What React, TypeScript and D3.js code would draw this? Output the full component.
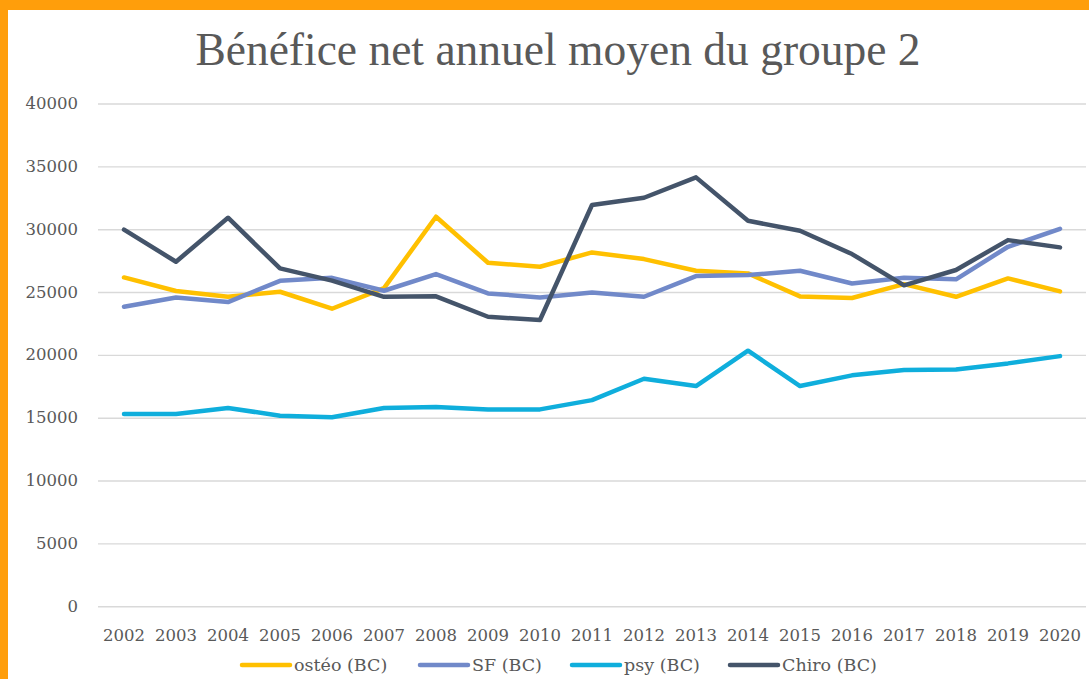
import React from "react";
import * as d3 from "d3";

const years = ["2002","2003","2004","2005","2006","2007","2008","2009","2010","2011","2012","2013","2014","2015","2016","2017","2018","2019","2020"];
const osteo = [26200,25120,24660,25060,23710,25350,31030,27370,27050,28190,27660,26730,26520,24690,24560,25670,24660,26120,25090];
const sf = [23870,24610,24240,25930,26170,25140,26470,24930,24610,25010,24660,26310,26390,26730,25720,26170,26050,28640,30070];
const psy = [15330,15330,15810,15200,15070,15810,15890,15700,15700,16440,18140,17560,20370,17560,18410,18830,18880,19360,19940];
const chiro = [30000,27450,30950,26920,25950,24660,24700,23070,22810,31960,32540,34160,30710,29910,28060,25570,26790,29170,28590];
const yTicks = [0,5000,10000,15000,20000,25000,30000,35000,40000];

const seriesNames = ["ostéo (BC)", "SF (BC)", "psy (BC)", "Chiro (BC)"];
const seriesValues = [osteo, sf, psy, chiro];
const seriesColors = ["#FFC000", "#7189C9", "#0FAEDC", "#44546A"];

const W = 1089, H = 679;
const font = "'DejaVu Serif', serif";

export default function App() {
  const x = d3.scaleBand<string>().domain(years).range([98, 1086]);
  const y = d3.scaleLinear().domain([0, 40000]).range([606.7, 104]);
  const line = d3.line<number>()
    .x((_, i) => (x(years[i]) as number) + x.bandwidth() / 2)
    .y((d) => y(d));

  const legendX = [242, 420, 572, 730];

  return (
    <svg width={W} height={H} style={{ position: "absolute", left: 0, top: 0 }}>
      <rect x={0} y={0} width={W} height={H} fill="#FF9E0B" />
      <rect x={8} y={10} width={W - 8} height={H - 10} fill="#FFFFFF" />
      <text x={558} y={65} textAnchor="middle" fontFamily="'Liberation Serif', serif" fontSize={45.5} fill="#595959">
        Bénéfice net annuel moyen du groupe 2
      </text>
      {yTicks.map((t) => (
        <g key={t}>
          <line x1={98} x2={1086} y1={y(t)} y2={y(t)} stroke="#D9D9D9" strokeWidth={1.4} />
          <text x={78} y={y(t) + 5} textAnchor="end" fontFamily={font} fontSize={16.5} fill="#595959">{t}</text>
        </g>
      ))}
      {years.map((yr) => (
        <text key={yr} x={(x(yr) as number) + x.bandwidth() / 2} y={641} textAnchor="middle" fontFamily={font} fontSize={16.5} fill="#595959">{yr}</text>
      ))}
      {seriesValues.map((vals, i) => (
        <path key={i} d={line(vals) || ""} fill="none" stroke={seriesColors[i]} strokeWidth={4.5} strokeLinecap="round" strokeLinejoin="round" />
      ))}
      {seriesNames.map((n, i) => (
        <g key={n}>
          <line x1={legendX[i]} x2={legendX[i] + 48} y1={665} y2={665} stroke={seriesColors[i]} strokeWidth={4.5} strokeLinecap="round" />
          <text x={legendX[i] + 52} y={671} fontFamily={font} fontSize={17.5} fill="#595959">{n}</text>
        </g>
      ))}
    </svg>
  );
}
